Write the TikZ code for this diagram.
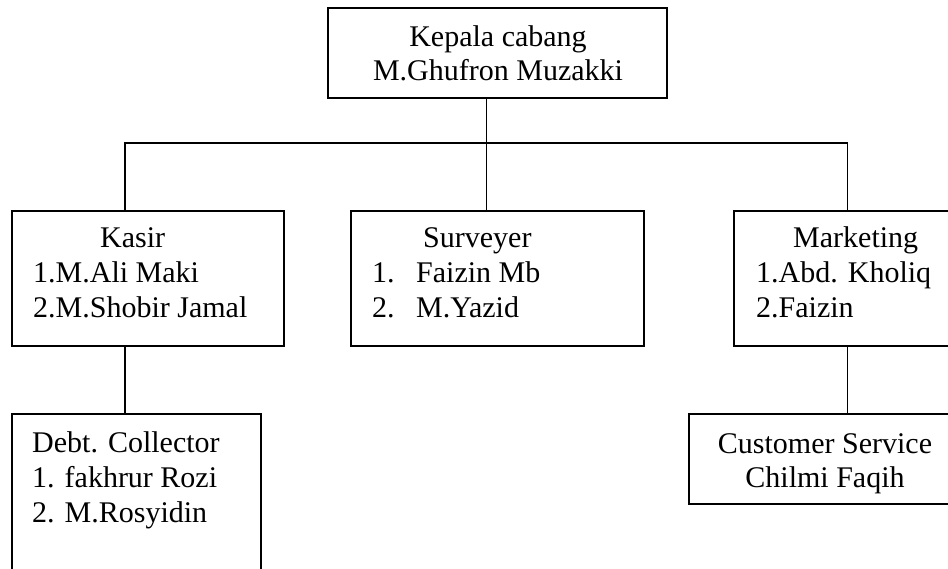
\documentclass[tikz,border=0pt]{standalone}
\usepackage{fontspec}
\setmainfont{Liberation Serif}
\begin{document}
\begin{tikzpicture}[x=1pt,y=-1pt,
  unit/.style={draw, line width=1.6pt, rectangle, inner sep=0pt},
  link/.style={line width=1.6pt},
  txt/.style={inner sep=0pt, font=\fontsize{30}{34.5}\selectfont}
]
\clip (0,0) rectangle (948,569);

% boxes
\node[unit, minimum width=339pt, minimum height=90pt] (head) at (497.5,53) {};
\node[unit, minimum width=272pt, minimum height=135pt] (kasir) at (148,278.5) {};
\node[unit, minimum width=293pt, minimum height=135pt] (survey) at (497.5,278.5) {};
\node[unit, minimum width=228pt, minimum height=135pt] (market) at (848,278.5) {};
\node[unit, minimum width=249pt, minimum height=206pt] (debt) at (136.5,517) {};
\node[unit, minimum width=273pt, minimum height=90pt] (cs) at (825.5,459) {};

% connector junctions
\coordinate (hub) at (486.5,143);
\coordinate (jk) at (125,143);
\coordinate (jm) at (847.5,143);

\draw[link] (hub |- head.south) -- (hub) -- (hub |- survey.north);
\draw[link] (jk |- kasir.north) -- (jk) -- (jm) -- (jm |- market.north);
\draw[link] (jk |- kasir.south) -- (jk |- debt.north);
\draw[link] (jm |- market.south) -- (jm |- cs.north);

% texts
\node[txt, anchor=base] (h1) at (498,47) {Kepala cabang};
\node[txt, anchor=base] (h2) at (498,81) {M.Ghufron Muzakki};

\node[txt, anchor=base west] (k1) at (100,248) {Kasir};
\node[txt, anchor=base west] (k2) at (33,283) {1.M.Ali Maki};
\node[txt, anchor=base west] (k3) at (33,318) {2.M.Shobir Jamal};

\node[txt, anchor=base west] (s1) at (423,248) {Surveyer};
\node[txt, anchor=base west] (s2n) at (372,283) {1.};
\node[txt, anchor=base west] (s2) at (416,283) {Faizin Mb};
\node[txt, anchor=base west] (s3n) at (372,318) {2.};
\node[txt, anchor=base west] (s3) at (416,318) {M.Yazid};

\node[txt, anchor=base west] (m1) at (793,248) {Marketing};
\node[txt, anchor=base west] (m2) at (756,283) {1.Abd. Kholiq};
\node[txt, anchor=base west] (m3) at (756,318) {2.Faizin};

\node[txt, anchor=base west] (d1) at (32,452) {Debt. Collector};
\node[txt, anchor=base west] (d2) at (32,487) {1. fakhrur Rozi};
\node[txt, anchor=base west] (d3) at (32,522) {2. M.Rosyidin};

\node[txt, anchor=base] (c1) at (825,453) {Customer Service};
\node[txt, anchor=base] (c2) at (825,487) {Chilmi Faqih};
\end{tikzpicture}
\end{document}
